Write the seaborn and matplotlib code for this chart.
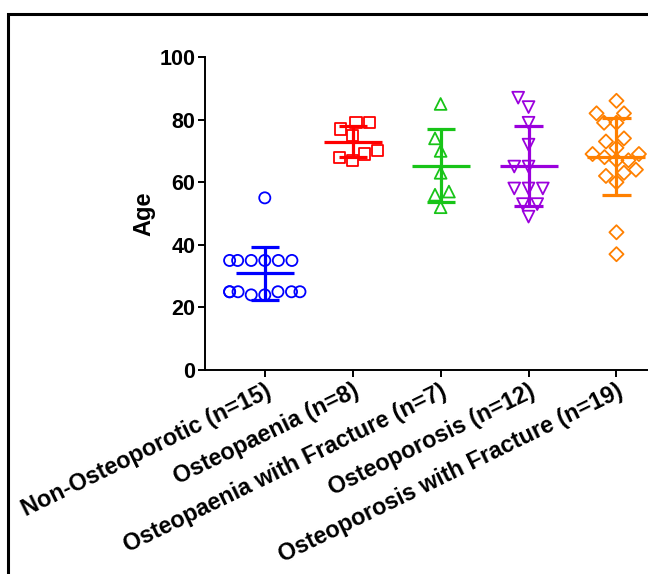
import numpy as np
import pandas as pd
import matplotlib
matplotlib.use("Agg")
import matplotlib.pyplot as plt
from matplotlib.patches import Rectangle
import seaborn as sns

# Group labels and measured ages per group
categories = [
    "Non-Osteoporotic (n=15)",
    "Osteopaenia (n=8)",
    "Osteopaenia with Fracture (n=7)",
    "Osteoporosis (n=12)",
    "Osteoporosis with Fracture (n=19)",
]
non_osteoporotic = [55, 35, 35, 35, 35, 35, 35, 25, 25, 25, 25, 25, 25, 24, 24]
osteopaenia = [79, 79, 77, 75, 69, 70, 67, 68]
osteopaenia_fracture = [85, 74, 70, 63, 57, 56, 52]
osteoporosis = [87, 84, 79, 72, 65, 65, 58, 58, 58, 53, 53, 49]
osteoporosis_fracture = [86, 82, 82, 79, 79, 73, 74, 71, 69, 69, 68, 67, 67,
                         63, 64, 60, 62, 44, 37]
y_ticks = [0, 20, 40, 60, 80, 100]

groups = [non_osteoporotic, osteopaenia, osteopaenia_fracture,
          osteoporosis, osteoporosis_fracture]
colors = ["#0000FF", "#FF0000", "#18C418", "#9B00DD", "#FF8000"]
markers = ["o", "s", "^", "v", "D"]
sizes = [8, 8, 8.5, 8.5, 7.2]

df = pd.DataFrame({
    "Group": np.repeat(categories, [len(g) for g in groups]),
    "Age": np.concatenate(groups),
})

sns.set_style("ticks")
plt.rcParams["font.family"] = ["Liberation Sans", "DejaVu Sans"]
plt.rcParams["font.weight"] = "bold"
plt.rcParams["text.color"] = "black"
plt.rcParams["axes.labelcolor"] = "black"

fig = plt.figure(figsize=(6.48, 5.74), dpi=100)
ax = fig.add_axes([205 / 648, (574 - 370) / 574, (678 - 205) / 648, (370 - 57) / 574])

for i, cat in enumerate(categories):
    sub = df[df["Group"] == cat]
    n_before = len(ax.collections)
    sns.swarmplot(data=sub, x="Group", y="Age", order=categories,
                  marker=markers[i], size=sizes[i], color=colors[i],
                  linewidth=1.3, ax=ax, zorder=3)
    for coll in ax.collections[n_before:]:
        coll.set_facecolor("none")
        coll.set_edgecolor(colors[i])
        coll.set_linewidth(1.3)

# Mean line with SD whiskers for each group
for i, g in enumerate(groups):
    m = np.mean(g)
    sd = np.std(g, ddof=1)
    ax.hlines(m, i - 0.33, i + 0.33, color=colors[i], lw=2.3, zorder=4)
    ax.vlines(i, m - sd, m + sd, color=colors[i], lw=2.3, zorder=4)
    ax.hlines([m - sd, m + sd], i - 0.16, i + 0.16, color=colors[i], lw=2.3, zorder=4)

ax.set_xlim(-0.68, 4.7)
ax.set_ylim(0, 100)
ax.set_yticks(y_ticks)
ax.set_yticklabels([str(t) for t in y_ticks], fontsize=15.5, fontweight="bold",
                   color="black")
ax.set_xticks(range(len(categories)))
ax.set_xticklabels(categories, rotation=26, ha="right", rotation_mode="anchor",
                   fontsize=16.8, fontweight="bold", color="black")
ax.set_xlabel("")
ax.set_ylabel("Age", fontsize=17, fontweight="bold", labelpad=3, color="black")
ax.tick_params(axis="both", direction="out", width=1.4, length=5, pad=2, colors="black")
for side in ["left", "bottom"]:
    ax.spines[side].set_linewidth(1.4)
    ax.spines[side].set_color("black")
ax.spines["top"].set_visible(False)
ax.spines["right"].set_visible(False)

# Outer frame around the panel
fig.patches.append(Rectangle((8 / 648, -0.1), 1.2, (574 - 14) / 574 + 0.1,
                             transform=fig.transFigure, fill=False,
                             edgecolor="black", linewidth=2.2))

fig.savefig("out.png", dpi=100)
